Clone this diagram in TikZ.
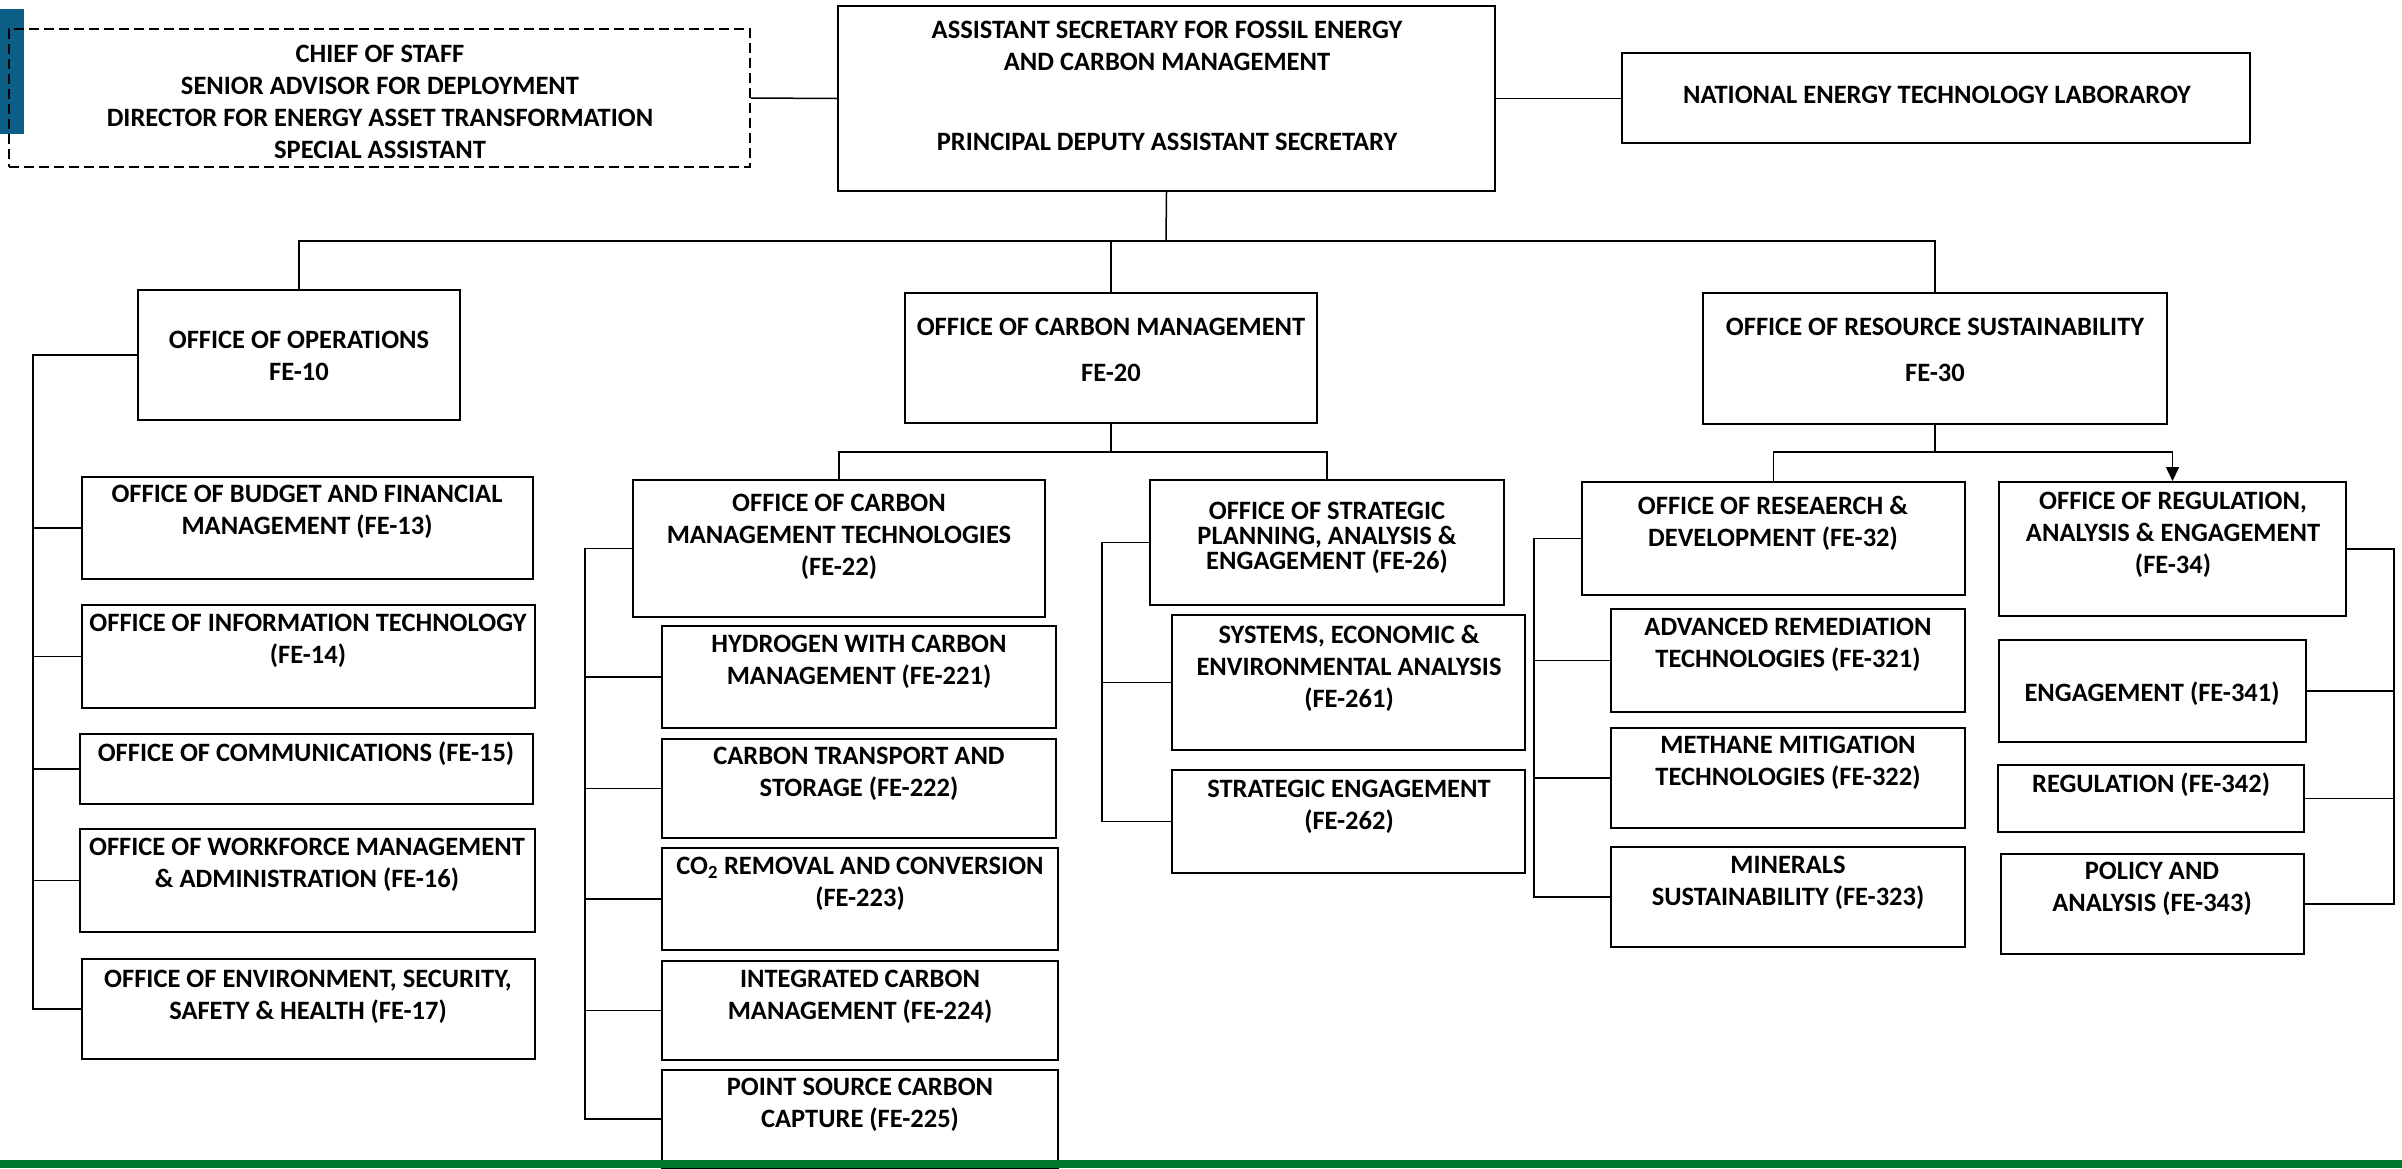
\documentclass[tikz,border=0pt]{standalone}
\usepackage{fontspec}
\setmainfont{Carlito}
\usetikzlibrary{arrows.meta}
\definecolor{barblue}{HTML}{0B5E86}
\definecolor{bargreen}{HTML}{00772F}
\tikzset{
  obox/.style={draw=black, line width=2pt, fill=white, inner sep=0pt},
  dbox/.style={obox, fill=none, line width=1.8pt, dash pattern=on 10pt off 5pt},
  otxt/.style={align=center, inner sep=0pt, font=\fontsize{26.5}{32}\selectfont\bfseries},
  conn/.style={draw=black, line width=1.5pt},
}
\newcommand\orgbox[6][]{%
  \node[obox,#1,minimum width={(#5-#3)*1pt},minimum height={(#6-#4)*1pt}] (#2) at ({(#3+#5)/2},{(#4+#6)/2}) {};}
\begin{document}
\begin{tikzpicture}[x=1pt,y=-1pt]
\useasboundingbox (0,0) rectangle (2402,1168);
\fill[barblue] (0,9) rectangle (24,134);
% boxes
\orgbox[dbox]{chief}{9}{29}{750}{167}
\orgbox{top}{838}{6}{1495}{191}
\orgbox{netl}{1622}{53}{2250}{143}
\orgbox{ops}{138}{290}{460}{420}
\orgbox{fe20}{905}{293}{1317}{423}
\orgbox{fe30}{1703}{293}{2167}{424}
\orgbox{fe13}{82}{477}{533}{579}
\orgbox{fe14}{82}{605}{535}{708}
\orgbox{fe15}{80}{734}{533}{804}
\orgbox{fe16}{80}{829}{535}{932}
\orgbox{fe17}{82}{959}{535}{1059}
\orgbox{fe22}{633}{480}{1045}{617}
\orgbox{fe221}{662}{626}{1056}{728}
\orgbox{fe222}{662}{739}{1056}{838}
\orgbox{fe223}{662}{848}{1058}{950}
\orgbox{fe224}{662}{961}{1058}{1060}
\orgbox{fe225}{662}{1070}{1058}{1168}
\orgbox{fe26}{1150}{480}{1504}{605}
\orgbox{fe261}{1172}{615}{1525}{750}
\orgbox{fe262}{1172}{770}{1525}{873}
\orgbox{fe32}{1582}{482}{1965}{595}
\orgbox{fe321}{1611}{609}{1965}{712}
\orgbox{fe322}{1611}{728}{1965}{828}
\orgbox{fe323}{1611}{847}{1965}{947}
\orgbox{fe34}{1999}{482}{2346}{616}
\orgbox{fe341}{1999}{640}{2306}{742}
\orgbox{fe342}{1998}{765}{2304}{832}
\orgbox{fe343}{2001}{854}{2304}{954}
% texts
\node[otxt] (t-chief) at (380,102) {CHIEF OF STAFF\\SENIOR ADVISOR FOR DEPLOYMENT\\DIRECTOR FOR ENERGY ASSET TRANSFORMATION\\SPECIAL ASSISTANT};
\node[otxt] (t-top1) at (1167,46) {ASSISTANT SECRETARY FOR FOSSIL ENERGY\\AND CARBON MANAGEMENT};
\node[otxt] (t-top2) at (1167,142) {PRINCIPAL DEPUTY ASSISTANT SECRETARY};
\node[otxt] (t-netl) at (1937,95) {NATIONAL ENERGY TECHNOLOGY LABORAROY};
\node[otxt] (t-ops) at (299,356) {OFFICE OF OPERATIONS\\FE-10};
\node[otxt] (t-fe20) at (1111,350) {OFFICE OF CARBON MANAGEMENT\\[14pt]FE-20};
\node[otxt] (t-fe30) at (1935,350) {OFFICE OF RESOURCE SUSTAINABILITY\\[14pt]FE-30};
\node[otxt] (t-fe13) at (307,512) {OFFICE OF BUDGET AND FINANCIAL\\MANAGEMENT (FE-13)};
\node[otxt] (t-fe14) at (308,641) {OFFICE OF INFORMATION TECHNOLOGY\\(FE-14)};
\node[otxt] (t-fe15) at (306,754) {OFFICE OF COMMUNICATIONS (FE-15)};
\node[otxt] (t-fe16) at (307,865) {OFFICE OF WORKFORCE MANAGEMENT\\\&\ ADMINISTRATION (FE-16)};
\node[otxt] (t-fe17) at (308,997) {OFFICE OF ENVIRONMENT, SECURITY,\\SAFETY \&\ HEALTH (FE-17)};
\node[otxt] (t-fe22) at (839,537) {OFFICE OF CARBON\\MANAGEMENT TECHNOLOGIES\\(FE-22)};
\node[otxt] (t-fe221) at (859,662) {HYDROGEN WITH CARBON\\MANAGEMENT (FE-221)};
\node[otxt] (t-fe222) at (859,774) {CARBON TRANSPORT AND\\STORAGE (FE-222)};
\node[otxt] (t-fe223) at (860,884) {CO\textsubscript{2} REMOVAL AND CONVERSION\\(FE-223)};
\node[otxt] (t-fe224) at (860,997) {INTEGRATED CARBON\\MANAGEMENT (FE-224)};
\node[otxt] (t-fe225) at (860,1105) {POINT SOURCE CARBON\\CAPTURE (FE-225)};
\node[otxt, font=\fontsize{26.5}{25}\selectfont\bfseries] (t-fe26) at (1327,538) {OFFICE OF STRATEGIC\\PLANNING, ANALYSIS \&\\ENGAGEMENT (FE-26)};
\node[otxt] (t-fe261) at (1349,668) {SYSTEMS, ECONOMIC \&\\ENVIRONMENTAL ANALYSIS\\(FE-261)};
\node[otxt] (t-fe262) at (1349,807) {STRATEGIC ENGAGEMENT\\(FE-262)};
\node[otxt] (t-fe32) at (1773,523) {OFFICE OF RESEAERCH \&\\DEVELOPMENT (FE-32)};
\node[otxt] (t-fe321) at (1788,645) {ADVANCED REMEDIATION\\TECHNOLOGIES (FE-321)};
\node[otxt] (t-fe322) at (1788,763) {METHANE MITIGATION\\TECHNOLOGIES (FE-322)};
\node[otxt] (t-fe323) at (1788,883) {MINERALS\\SUSTAINABILITY (FE-323)};
\node[otxt] (t-fe34) at (2173,535) {OFFICE OF REGULATION,\\ANALYSIS \&\ ENGAGEMENT\\(FE-34)};
\node[otxt] (t-fe341) at (2152,694) {ENGAGEMENT (FE-341)};
\node[otxt] (t-fe342) at (2151,785) {REGULATION (FE-342)};
\node[otxt] (t-fe343) at (2152,889) {POLICY AND\\ANALYSIS (FE-343)};
% connectors
\draw[conn] (chief.east) -- (top.west);
\draw[conn] (top.east) -- (top.east -| netl.west);
\coordinate (b1) at (1166,241);
\draw[conn] (top.south) -- (b1);
\draw[conn] (ops.north) |- (b1) -| (fe30.north);
\draw[conn] (fe20.north) -- (fe20.north |- b1);
% operations
\coordinate (s1) at (33,0);
\draw[conn] (ops.west) -| (s1 |- fe17.west) -- (fe17.west);
\foreach \n in {fe13,fe14,fe15,fe16} \draw[conn] (\n.west) -- (\n.west -| s1);
% carbon management
\coordinate (b2) at (1111,452);
\draw[conn] (fe20.south) -- (b2);
\draw[conn] (fe22.north) |- (b2) -| (fe26.north);
\coordinate (s2) at (585,0);
\draw[conn] (fe22.west) -| (s2 |- fe225.west) -- (fe225.west);
\foreach \n in {fe221,fe222,fe223,fe224} \draw[conn] (\n.west) -- (\n.west -| s2);
\coordinate (s3) at (1102,0);
\draw[conn] (fe26.west) -| (s3 |- fe262.west) -- (fe262.west);
\draw[conn] (fe261.west) -- (fe261.west -| s3);
% resource sustainability
\coordinate (b3) at (1935,452);
\draw[conn] (fe30.south) -- (b3);
\draw[conn] (fe32.north) |- (b3);
\draw[conn, -{Triangle[length=14pt,width=13pt]}] (b3) -| (fe34.north);
\coordinate (s4) at (1534,0);
\draw[conn] (fe32.west) -| (s4 |- fe323.west) -- (fe323.west);
\foreach \n in {fe321,fe322} \draw[conn] (\n.west) -- (\n.west -| s4);
\coordinate (s5) at (2394,0);
\draw[conn] (fe34.east) -| (s5 |- fe343.east) -- (fe343.east);
\foreach \n in {fe341,fe342} \draw[conn] (\n.east) -- (\n.east -| s5);
\fill[bargreen] (0,1160) rectangle (2402,1168);
\end{tikzpicture}
\end{document}
